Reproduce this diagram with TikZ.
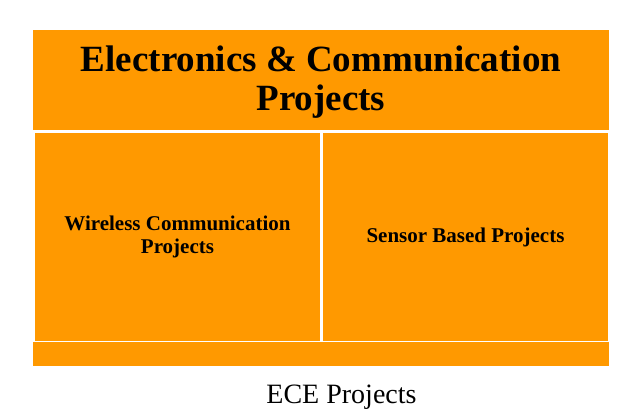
\documentclass[tikz,border=0pt]{standalone}
\usepackage{fontspec}
\setmainfont{Liberation Serif}
\definecolor{eceorange}{HTML}{FF9900}
\begin{document}
\begin{tikzpicture}[x=1pt,y=-1pt,
        riquadro/.style={fill=eceorange,inner sep=0pt,align=center,font=\bfseries\fontsize{21}{23}\selectfont},
        titolo/.style={riquadro,font=\bfseries\fontsize{37}{39}\selectfont}]
        \useasboundingbox (0,0) rectangle (632,419);

        %%%%%%%%%% Riquadri %%%%%%%%%%
        \node[titolo,minimum width=576pt,minimum height=100pt] (ece) at (321,80) {\rule{0pt}{29pt}Electronics \& Communication\\Projects};
        \node[riquadro,minimum width=285pt,minimum height=208pt] (wireless) at (177.5,237) {Wireless Communication\\Projects};
        \node[riquadro,minimum width=285pt,minimum height=208pt] (sensor) at (465.5,237) {Sensor Based Projects};
        \node[riquadro,minimum width=576pt,minimum height=24pt] (base) at (321,354) {};

        %%%%%%%%% Didascalia %%%%%%%%%
        \node[anchor=base,inner sep=0pt,font=\fontsize{28}{30}\selectfont] (didascalia) at (341.5,404) {ECE Projects};
    \end{tikzpicture}
\end{document}
